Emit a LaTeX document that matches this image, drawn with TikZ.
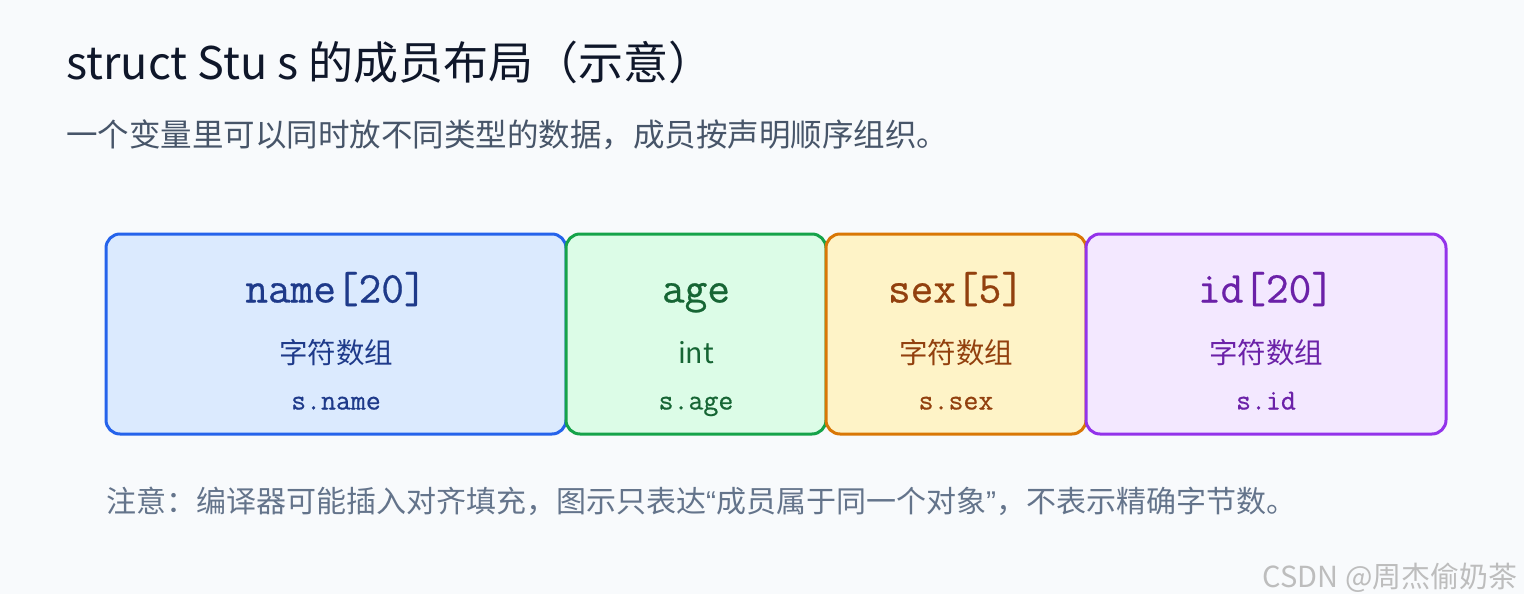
\documentclass[tikz,border=0pt]{standalone}
\usepackage{fontspec}
\setmainfont{Noto Sans CJK SC}
\setmonofont{Latin Modern Mono}
\newfontfamily\codefont[FakeBold=0.6]{Latin Modern Mono}
\newfontfamily\quotefont{Liberation Sans}
\definecolor{bgc}{HTML}{F8FAFC}
\definecolor{titlec}{HTML}{0F172A}
\definecolor{subc}{HTML}{475569}
\definecolor{notec}{HTML}{64748B}
\definecolor{wmc}{HTML}{BDBDBD}
\definecolor{bluefill}{HTML}{DBEAFE}
\definecolor{bluedraw}{HTML}{2563EB}
\definecolor{bluetext}{HTML}{1E3A8A}
\definecolor{greenfill}{HTML}{DCFCE7}
\definecolor{greendraw}{HTML}{16A34A}
\definecolor{greentext}{HTML}{166534}
\definecolor{orangefill}{HTML}{FEF3C7}
\definecolor{orangedraw}{HTML}{D97706}
\definecolor{orangetext}{HTML}{92400E}
\definecolor{purplefill}{HTML}{F3E8FF}
\definecolor{purpledraw}{HTML}{9333EA}
\definecolor{purpletext}{HTML}{6B21A8}
\tikzset{
  membox/.style={rounded corners=14pt, line width=3pt, minimum height=200pt, inner sep=0pt},
  codelabel/.style={anchor=base, inner sep=0pt, font=\codefont\fontsize{44}{44}\selectfont},
  typelabel/.style={anchor=base, inner sep=0pt, font=\fontsize{28.5}{28.5}\selectfont},
  accesslabel/.style={anchor=base, inner sep=0pt, font=\codefont\fontsize{29}{29}\selectfont},
}
\begin{document}
\begin{tikzpicture}[x=1pt,y=-1pt]
\fill[bgc] (0,0) rectangle (1524,594);
\fill[white] (0,594) rectangle (1524,602);
\useasboundingbox (0,0) rectangle (1524,602);

\node[anchor=base west, inner sep=0pt, text=titlec, font=\fontsize{45}{45}\selectfont] (title) at (66,80) {struct Stu s 的成员布局（示意）};
\node[anchor=base west, inner sep=0pt, text=subc, font=\fontsize{31.5}{31.5}\selectfont] (subtitle) at (66,146) {一个变量里可以同时放不同类型的数据，成员按声明顺序组织。};

\node[membox, draw=bluedraw, fill=bluefill, minimum width=460pt] (nm) at (336,334) {};
\node[membox, draw=greendraw, fill=greenfill, minimum width=260pt] (ag) at (696,334) {};
\node[membox, draw=orangedraw, fill=orangefill, minimum width=260pt] (sx) at (956,334) {};
\node[membox, draw=purpledraw, fill=purplefill, minimum width=360pt] (idb) at (1266,334) {};

\path (nm.north) ++(0,70) node[codelabel, text=bluetext] (nm1) {name[20]};
\path (nm.north) ++(0,131) node[typelabel, text=bluetext] (nm2) {字符数组};
\path (nm.north) ++(0,177) node[accesslabel, text=bluetext] (nm3) {s.name};

\path (ag.north) ++(0,70) node[codelabel, text=greentext] (ag1) {age};
\path (ag.north) ++(0,131) node[typelabel, text=greentext] (ag2) {int};
\path (ag.north) ++(0,177) node[accesslabel, text=greentext] (ag3) {s.age};

\path (sx.north) ++(0,70) node[codelabel, text=orangetext] (sx1) {sex[5]};
\path (sx.north) ++(0,131) node[typelabel, text=orangetext] (sx2) {字符数组};
\path (sx.north) ++(0,177) node[accesslabel, text=orangetext] (sx3) {s.sex};

\path (idb.north) ++(0,70) node[codelabel, text=purpletext] (id1) {id[20]};
\path (idb.north) ++(0,131) node[typelabel, text=purpletext] (id2) {字符数组};
\path (idb.north) ++(0,177) node[accesslabel, text=purpletext] (id3) {s.id};

\node[anchor=base west, inner sep=0pt, text=notec, font=\fontsize{30}{30}\selectfont] (note) at (106,512) {注意：编译器可能插入对齐填充，图示只表达{\quotefont “}成员属于同一个对象{\quotefont ”}，不表示精确字节数。};

\node[anchor=base east, inner sep=0pt, text=wmc, font=\fontsize{29}{29}\selectfont] (wm) at (1518,587) {CSDN @周杰偷奶茶};
\end{tikzpicture}
\end{document}
